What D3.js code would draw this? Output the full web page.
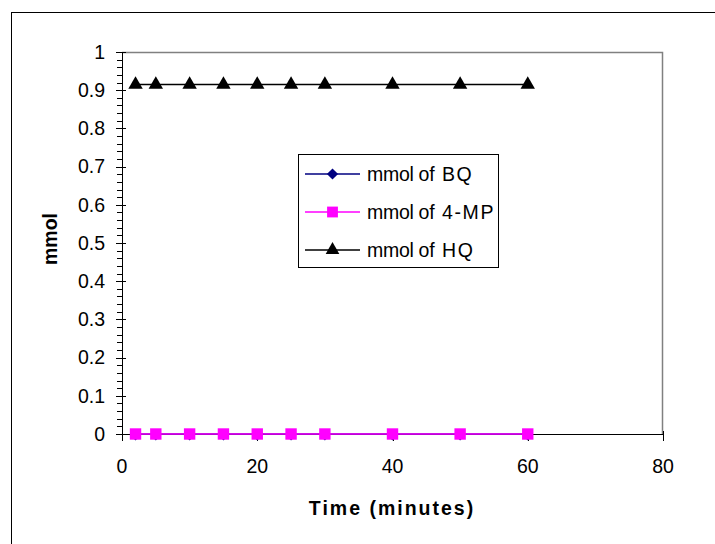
<!DOCTYPE html>
<html>
<head>
<meta charset="utf-8">
<script src="https://cdn.jsdelivr.net/npm/d3@7"></script>
<style>
  html, body { margin: 0; padding: 0; background: #fff; }
  svg { display: block; font-family: "Liberation Sans", Arial, sans-serif; }
</style>
</head>
<body>
<svg id="chart" width="715" height="544"></svg>
<script>
// Sampling times (minutes)
const times = [2, 5, 10, 15, 20, 25, 30, 40, 50, 60];
// Amounts (mmol) for each species
const bq  = [0, 0, 0, 0, 0, 0, 0, 0, 0, 0];
const mp  = [0, 0, 0, 0, 0, 0, 0, 0, 0, 0];
const hq  = [0.915, 0.915, 0.915, 0.915, 0.915, 0.915, 0.915, 0.915, 0.915, 0.915];
const seriesPrefix = "mmol of";
const seriesNames = ["BQ", "4-MP", "HQ"];
const xTicks = [0, 20, 40, 60, 80];
const yTicks = [0, 0.1, 0.2, 0.3, 0.4, 0.5, 0.6, 0.7, 0.8, 0.9, 1];

const svg = d3.select("#chart");
const W = 715, H = 544;
const plotL = 122, plotR = 663, plotT = 52, plotB = 434;

// Outer chart frame
svg.append("rect").attr("x", 11.5).attr("y", 12.5)
  .attr("width", W + 20).attr("height", H + 20)
  .attr("fill", "#fff").attr("stroke", "#000").attr("stroke-width", 1);

const x = d3.scaleLinear().domain([0, 80]).range([plotL, plotR]);
const y = d3.scaleLinear().domain([0, 1]).range([plotB, plotT]);

// Plot area border (grey top/right)
svg.append("path")
  .attr("d", `M${plotL},${plotT + 0.5}H${plotR - 0.5}V${plotB}`)
  .attr("fill", "none").attr("stroke", "#808080").attr("stroke-width", 1.5);

// Y axis: minor ticks every 0.02, crossing major ticks every 0.1
const minor = d3.range(0, 1.0001, 0.02);
svg.append("g").selectAll("line").data(minor).join("line")
  .attr("x1", plotL - 5).attr("x2", plotL)
  .attr("y1", d => Math.round(y(d)) + 0.5).attr("y2", d => Math.round(y(d)) + 0.5)
  .attr("stroke", "#000");
svg.append("g").selectAll("line").data(yTicks).join("line")
  .attr("x1", plotL - 6).attr("x2", plotL + 4)
  .attr("y1", d => Math.round(y(d)) + 0.5).attr("y2", d => Math.round(y(d)) + 0.5)
  .attr("stroke", "#000");
svg.append("line").attr("x1", plotL + 0.5).attr("x2", plotL + 0.5)
  .attr("y1", plotT).attr("y2", plotB + 1).attr("stroke", "#000");
svg.append("g").selectAll("text").data(yTicks).join("text")
  .attr("x", 105).attr("y", d => y(d)).attr("dy", "0.35em")
  .attr("text-anchor", "end").attr("font-size", 19.5)
  .text(d => d3.format("~g")(d));

// X axis
svg.append("line").attr("x1", plotL).attr("x2", plotR)
  .attr("y1", plotB + 0.5).attr("y2", plotB + 0.5).attr("stroke", "#000");
svg.append("g").selectAll("line").data(xTicks).join("line")
  .attr("x1", d => Math.round(x(d)) + 0.5).attr("x2", d => Math.round(x(d)) + 0.5)
  .attr("y1", plotB - 3).attr("y2", plotB + 7).attr("stroke", "#000");
svg.append("g").selectAll("text").data(xTicks).join("text")
  .attr("x", d => x(d)).attr("y", 473)
  .attr("text-anchor", "middle").attr("font-size", 19.5)
  .text(d => d);

// Axis titles
svg.append("text").attr("x", 392).attr("y", 515)
  .attr("text-anchor", "middle").attr("font-size", 19.5).attr("font-weight", "bold")
  .attr("letter-spacing", 2)
  .text("Time (minutes)");
svg.append("text").attr("transform", "translate(57,239) rotate(-90)")
  .attr("text-anchor", "middle").attr("font-size", 19.5).attr("font-weight", "bold")
  .text("mmol");

// Series definitions
const series = [
  { name: seriesNames[0], values: bq, color: "#000080", symbol: d3.symbolDiamond2, size: 62, legendSize: 80, dy: 1.5 },
  { name: seriesNames[1], values: mp, color: "#FF00FF", symbol: d3.symbolSquare, size: 130, legendSize: 117, dy: 0 },
  { name: seriesNames[2], values: hq, color: "#000000", symbol: d3.symbolTriangle, size: 90, legendSize: 81, dy: 0 }
];

const line = d3.line().x(d => x(d[0])).y(d => y(d[1]));

series.forEach(s => {
  const pts = times.map((t, i) => [t, s.values[i]]);
  svg.append("path").datum(pts).attr("d", line)
    .attr("fill", "none").attr("stroke", s.color).attr("stroke-width", 1.5);
  svg.append("g").selectAll("path").data(pts).join("path")
    .attr("transform", d => `translate(${x(d[0])},${y(d[1]) + s.dy})`)
    .attr("d", d3.symbol().type(s.symbol).size(s.size))
    .attr("fill", s.color);
});

// Legend
const lg = svg.append("g");
lg.append("rect").attr("x", 298.5).attr("y", 154.5).attr("width", 200).attr("height", 113)
  .attr("fill", "#fff").attr("stroke", "#000");
const rowY = [174, 212, 250];
series.forEach((s, i) => {
  lg.append("line").attr("x1", 305).attr("x2", 360)
    .attr("y1", rowY[i]).attr("y2", rowY[i])
    .attr("stroke", s.color).attr("stroke-width", 1.5);
  lg.append("path").attr("transform", `translate(332.5,${rowY[i]})`)
    .attr("d", d3.symbol().type(s.symbol).size(s.legendSize))
    .attr("fill", s.color);
  const t = lg.append("text").attr("x", 367).attr("y", rowY[i]).attr("dy", "0.36em")
    .attr("font-size", 19.5);
  t.append("tspan").attr("letter-spacing", -0.3).text(seriesPrefix);
  t.append("tspan").attr("x", 442).attr("letter-spacing", 1.6).text(s.name);
});
</script>
</body>
</html>
